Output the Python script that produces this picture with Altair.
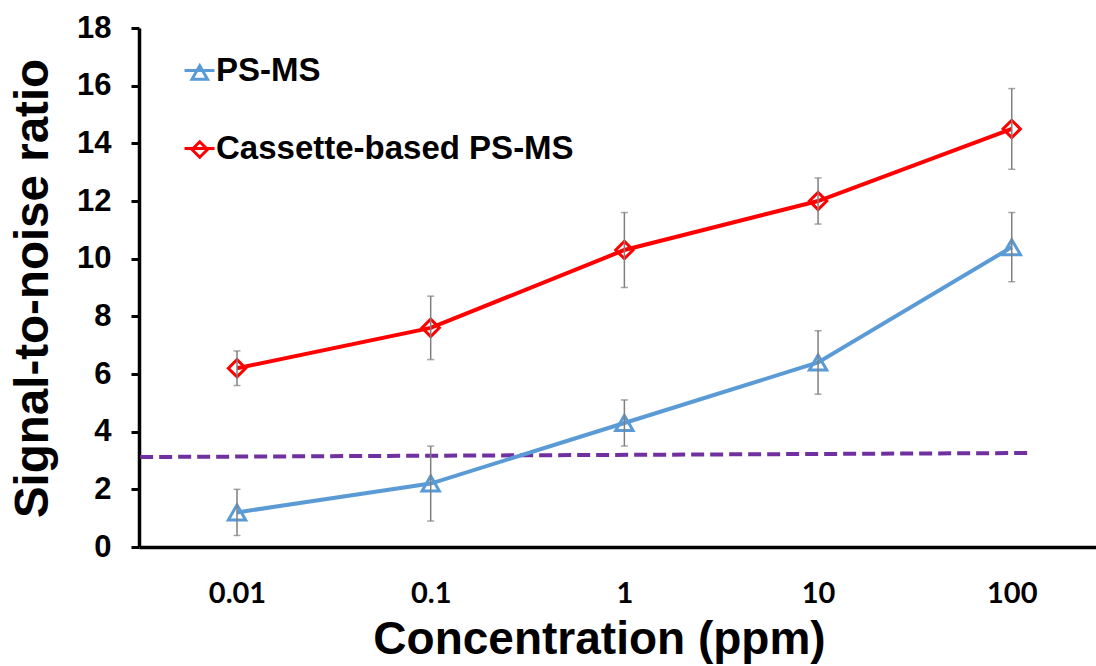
import altair as alt
import pandas as pd

# ---- data ----
conc_labels = ["0.01", "0.1", "1", "10", "100"]
series_names = ["PS-MS", "Cassette-based PS-MS"]
ps_ms = [1.2, 2.2, 4.3, 6.4, 10.4]
ps_ms_lo = [0.4, 0.9, 3.5, 5.3, 9.2]
ps_ms_hi = [2.0, 3.5, 5.1, 7.5, 11.6]
cas = [6.2, 7.6, 10.3, 12.0, 14.5]
cas_lo = [5.6, 6.5, 9.0, 11.2, 13.1]
cas_hi = [6.8, 8.7, 11.6, 12.8, 15.9]
# LOD threshold (dashed) line endpoints: index position, value
lod_x = [-0.5, 4.1]
lod_y = [3.12, 3.26]

colors = ["#5B9BD5", "#FF0000"]
shapes = ["triangle-up", "diamond"]

rows = []
for i, c in enumerate(conc_labels):
    rows.append(dict(idx=i, conc=c, series=series_names[0], v=ps_ms[i], lo=ps_ms_lo[i], hi=ps_ms_hi[i]))
for i, c in enumerate(conc_labels):
    rows.append(dict(idx=i, conc=c, series=series_names[1], v=cas[i], lo=cas_lo[i], hi=cas_hi[i]))
df = pd.DataFrame(rows)
df["series_line"] = df["series"]
lod = pd.DataFrame({"x": lod_x, "y": lod_y})

label_expr = "[" + ",".join("'%s'" % s for s in conc_labels) + "][datum.value]"

x_scale = alt.Scale(domain=[-0.506, 4.435], nice=False, zero=False)
y_scale = alt.Scale(domain=[0, 18], nice=False)

x_axis = alt.Axis(
    values=list(range(len(conc_labels))), labelExpr=label_expr,
    title="Concentration (ppm)", grid=False, ticks=False, tickSize=0,
    domainColor="black", domainWidth=3.5,
    labelFont="Lato", labelFontWeight="bold", labelFontSize=29, labelColor="black",
    labelBaseline="alphabetic", labelPadding=55, labelAlign="center",
    titleFont="Liberation Sans", titleFontWeight="bold", titleFontSize=46, titleColor="black",
    titleX=460, titleY=106, titleBaseline="alphabetic", titleAlign="center", titleAnchor="start",
)
y_axis = alt.Axis(
    values=list(range(0, 19, 2)), title="Signal-to-noise ratio", grid=False,
    tickSize=8, tickWidth=3, tickColor="black", domainColor="black", domainWidth=3.5,
    labelFont="Liberation Sans", labelFontWeight="bold", labelFontSize=31, labelColor="black",
    labelPadding=20,
    titleFont="Liberation Sans", titleFontWeight="bold", titleFontSize=47.5, titleColor="black",
    titleX=-92, titleY=260, titleBaseline="alphabetic", titleAlign="center", titleAngle=-90,
    titleAnchor="start",
)

LEG_X, LEG_Y, LEG_FONT = 44, 26, 33
STROKE_SYM = 900   # 30 px wide line symbol
POINT_SYM = 240    # ~15 px marker symbol

base = alt.Chart(df)

lod_line = alt.Chart(lod).mark_line(color="#7030A0", strokeWidth=4, strokeDash=[13, 6]).encode(
    x=alt.X("x:Q", scale=x_scale, axis=x_axis),
    y=alt.Y("y:Q", scale=y_scale, axis=y_axis),
)

lines = base.mark_line(strokeWidth=4).encode(
    x=alt.X("idx:Q", scale=x_scale),
    y=alt.Y("v:Q", scale=y_scale),
    stroke=alt.Stroke(
        "series_line:N", sort=series_names, scale=alt.Scale(range=colors),
        legend=alt.Legend(
            title=None, orient="none", legendX=LEG_X, legendY=LEG_Y, padding=0,
            symbolType="stroke", symbolSize=STROKE_SYM, symbolStrokeWidth=3,
            rowPadding=44, labelOffset=0, labelLimit=700,
            labelFont="Liberation Sans", labelFontWeight="bold", labelFontSize=LEG_FONT,
            labelColor="black",
        ),
    ),
    detail="series:N",
)

point_legend = alt.Legend(
    title=None, orient="none",
    legendX=LEG_X + (STROKE_SYM ** 0.5 - POINT_SYM ** 0.5) / 2, legendY=LEG_Y + 9,
    padding=0, symbolSize=POINT_SYM, symbolStrokeWidth=3,
    symbolFillColor="transparent", rowPadding=49, labelOffset=0, labelExpr="''",
)

points = base.mark_point(filled=False, strokeWidth=3, opacity=1).encode(
    x=alt.X("idx:Q", scale=x_scale),
    y=alt.Y("v:Q", scale=y_scale),
    color=alt.Color("series:N", scale=alt.Scale(domain=series_names, range=colors),
                    legend=point_legend),
    shape=alt.Shape("series:N", scale=alt.Scale(domain=series_names, range=shapes),
                    legend=point_legend),
    size=alt.value(300),
)

err_rules = base.mark_rule(color="#7F7F7F", strokeWidth=1.5).encode(
    x=alt.X("idx:Q", scale=x_scale),
    y=alt.Y("lo:Q", scale=y_scale),
    y2="hi:Q",
)
err_caps_lo = base.mark_tick(color="#7F7F7F", thickness=1.5, size=7, orient="horizontal").encode(
    x=alt.X("idx:Q", scale=x_scale),
    y=alt.Y("lo:Q", scale=y_scale),
)
err_caps_hi = base.mark_tick(color="#7F7F7F", thickness=1.5, size=7, orient="horizontal").encode(
    x=alt.X("idx:Q", scale=x_scale),
    y=alt.Y("hi:Q", scale=y_scale),
)

chart = alt.layer(lod_line, lines, points, err_rules, err_caps_lo, err_caps_hi).properties(
    width=957, height=519,
    autosize=alt.AutoSizeParams(type="none"),
    padding={"left": 139, "top": 28, "right": 0, "bottom": 119},
    background="white",
).configure_view(stroke=None)

chart.save("out.html", embed_options={"renderer": "svg", "actions": False})
